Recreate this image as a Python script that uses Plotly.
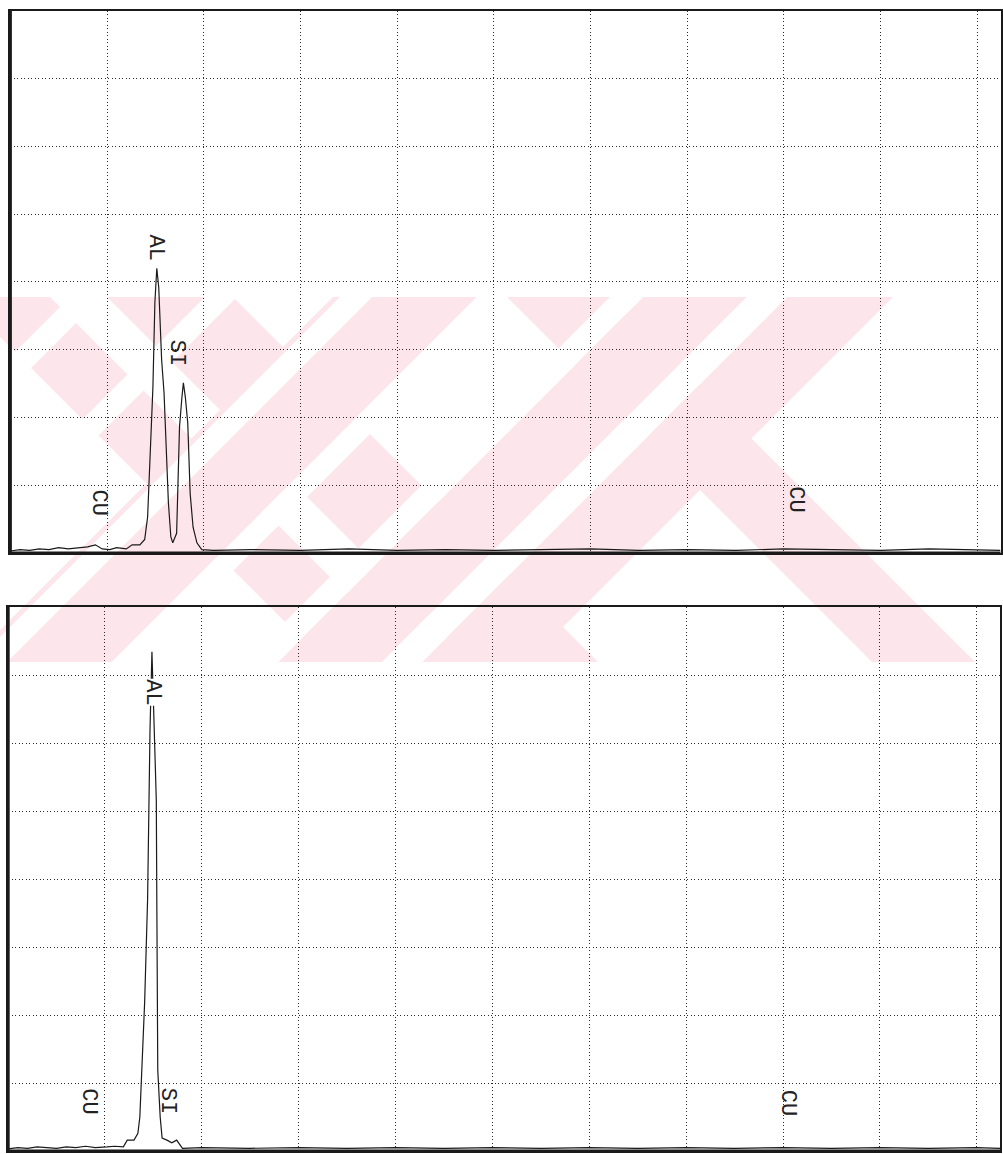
import plotly.graph_objects as go

# ---- EDS spectra (energy in keV, counts in grid divisions) ----
energy_top = [0.00, 0.10, 0.20, 0.30, 0.40, 0.50, 0.60, 0.70, 0.80, 0.88, 0.95,
              1.03, 1.10, 1.20, 1.26, 1.34, 1.39, 1.42, 1.45, 1.475, 1.495, 1.515,
              1.535, 1.565, 1.59, 1.61, 1.635, 1.66, 1.68, 1.72, 1.735, 1.75,
              1.775, 1.79, 1.81, 1.835, 1.86, 1.89, 1.93, 1.98, 2.10, 2.50, 3.00,
              3.50, 4.00, 4.50, 5.00, 5.50, 6.00, 6.50, 7.00, 7.50, 8.00, 8.50,
              9.00, 9.50, 10.00, 10.24]
counts_top = [0.03, 0.05, 0.04, 0.06, 0.05, 0.08, 0.06, 0.07, 0.09, 0.12, 0.06,
              0.05, 0.08, 0.06, 0.12, 0.12, 0.20, 0.53, 1.47, 2.45, 3.69, 4.20,
              3.92, 2.85, 2.36, 1.56, 0.74, 0.24, 0.15, 0.29, 1.10, 1.86,
              2.30, 2.51, 2.30, 1.92, 0.88, 0.38, 0.15, 0.05, 0.04, 0.05, 0.04,
              0.06, 0.04, 0.05, 0.04, 0.05, 0.06, 0.04, 0.05, 0.04, 0.06, 0.05,
              0.04, 0.06, 0.05, 0.04]

energy_bot = [0.00, 0.10, 0.20, 0.30, 0.40, 0.50, 0.60, 0.70, 0.80, 0.90, 1.02,
              1.10, 1.19, 1.23, 1.30, 1.34, 1.36, 1.38, 1.41, 1.44, 1.455, 1.465,
              1.485, 1.51, 1.53, 1.536, 1.54, 1.545, 1.57, 1.59, 1.64, 1.69, 1.74,
              1.80, 2.00, 2.50, 3.00, 3.50, 4.00, 4.50, 5.00, 5.50, 6.00, 6.50,
              7.00, 7.50, 8.00, 8.50, 9.00, 9.50, 10.00, 10.24]
counts_bot = [0.03, 0.05, 0.04, 0.06, 0.05, 0.04, 0.06, 0.05, 0.07, 0.05, 0.06,
              0.07, 0.06, 0.16, 0.16, 0.26, 0.50, 1.19, 2.20, 3.70, 5.16, 6.19,
              7.34, 6.19, 5.16, 3.50, 2.20, 1.19, 0.50, 0.19, 0.16, 0.12, 0.16,
              0.04, 0.05, 0.04, 0.05, 0.04, 0.05, 0.04, 0.05, 0.04, 0.05, 0.04,
              0.05, 0.04, 0.05, 0.04, 0.05, 0.04, 0.05, 0.04]

# ---- element markers: (text, energy, height) ----
labels_top = [("AL", 1.50, 4.50), ("SI", 1.72, 2.96), ("CU", 0.91, 0.74), ("CU", 8.12, 0.80)]
labels_bot = [("AL", 1.49, 6.74), ("SI", 1.64, 0.74), ("CU", 0.83, 0.74), ("CU", 8.04, 0.71)]

W, H = 1003, 1154
INK = "#1a1a1a"

fig = go.Figure()
fig.add_trace(go.Scatter(x=energy_top, y=counts_top, mode="lines",
                         line=dict(color=INK, width=1.2), xaxis="x", yaxis="y",
                         hoverinfo="skip"))
fig.add_trace(go.Scatter(x=energy_bot, y=counts_bot, mode="lines",
                         line=dict(color=INK, width=1.2), xaxis="x2", yaxis="y2",
                         hoverinfo="skip"))


def px_x(v):
    return v / W


def px_y(v):
    return 1 - v / H


axis_common = dict(showticklabels=False, ticks="", zeroline=False,
                   showgrid=True, gridcolor="#2a2a2a", gridwidth=1,
                   griddash="1px,2.5px", showline=True, mirror=True,
                   linecolor=INK, linewidth=2, fixedrange=True)

fig.update_layout(
    width=W, height=H,
    margin=dict(l=0, r=0, t=0, b=0),
    paper_bgcolor="white",
    plot_bgcolor="rgba(0,0,0,0)",
    showlegend=False,
    xaxis=dict(domain=[px_x(10.3), px_x(1000.5)], range=[0, 10.24], dtick=1,
               anchor="y", **axis_common),
    yaxis=dict(domain=[px_y(553), px_y(10.6)], range=[0, 8], dtick=1,
               anchor="x", **axis_common),
    xaxis2=dict(domain=[px_x(8.1), px_x(1000)], range=[0, 10.24], dtick=1,
                anchor="y2", **axis_common),
    yaxis2=dict(domain=[px_y(1151), px_y(607)], range=[0, 8], dtick=1,
                anchor="x2", **axis_common),
)

# ---- faint pink diagonal watermark behind both panels (page pixels) ----
WM_TOP, WM_BOT = 297, 662
WM_DROP = WM_BOT - WM_TOP
PINK = "#fde6eb"


def band(x0, x1, lean, color):
    """45-degree band: top edge spans x0..x1, bottom shifted by lean*height."""
    s = lean * WM_DROP
    pts = [(x0, WM_TOP), (x1, WM_TOP), (x1 + s, WM_BOT), (x0 + s, WM_BOT)]
    path = "M " + " L ".join(f"{px_x(x):.5f},{px_y(y):.5f}" for x, y in pts) + " Z"
    fig.add_shape(type="path", path=path, xref="paper", yref="paper",
                  fillcolor=color, line=dict(width=0), layer="below")


# strokes leaning right ("\") and left ("/")
for x0, x1 in [(-40, 50), (107, 233), (507, 610)]:
    band(x0, x1, 1, PINK)
for x0, x1 in [(333, 477), (643, 747), (787, 893)]:
    band(x0, x1, -1, PINK)
# thin white gaps that slice the strokes
for x0, x1 in [(70, 102), (205, 237), (340, 372), (477, 507), (610, 643), (747, 787)]:
    band(x0, x1, -1, "white")

# heavier left and bottom frame edges
for xr, yr in (("x", "y"), ("x2", "y2")):
    fig.add_shape(type="line", xref=f"{xr} domain", yref=f"{yr} domain",
                  x0=0, x1=0, y0=0, y1=1, line=dict(color=INK, width=3.2))
    fig.add_shape(type="line", xref=f"{xr} domain", yref=f"{yr} domain",
                  x0=0, x1=1, y0=0, y1=0, line=dict(color=INK, width=3.2))

label_font = dict(family="Liberation Mono", size=22, color="#222")
for text, e, h in labels_top:
    fig.add_annotation(x=e, y=h, xref="x", yref="y", text=text, showarrow=False,
                       textangle=90, font=label_font)
for text, e, h in labels_bot:
    fig.add_annotation(x=e, y=h, xref="x2", yref="y2", text=text, showarrow=False,
                       textangle=90, font=label_font,
                       bgcolor="white" if text == "AL" else None, borderpad=0)

fig.write_html("out.html")
